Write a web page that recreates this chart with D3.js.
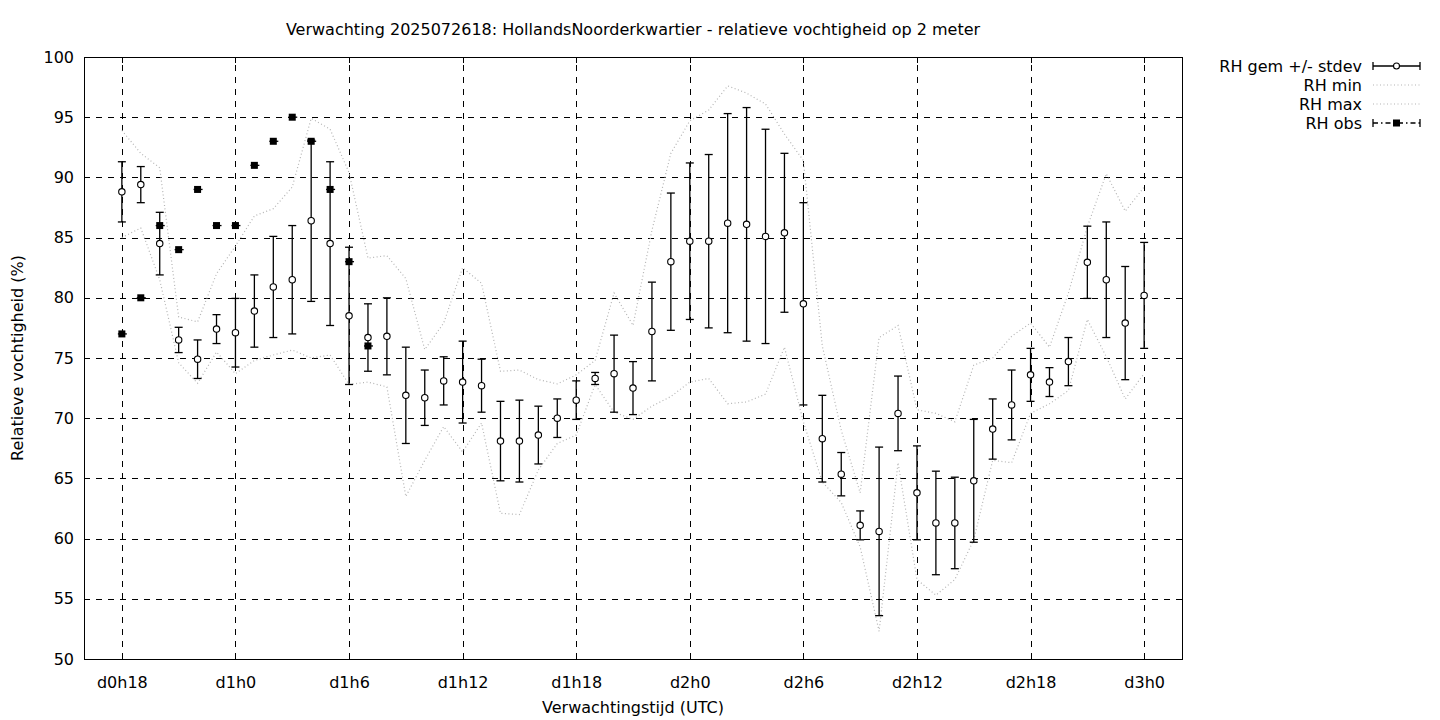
<!DOCTYPE html>
<html>
<head>
<meta charset="utf-8">
<script src="https://cdn.jsdelivr.net/npm/d3@7"></script>
<style>
  html, body { margin: 0; padding: 0; background: #fff; }
  svg { display: block; font-family: "DejaVu Sans", sans-serif; }
</style>
</head>
<body>
<svg id="chart" width="1440" height="720"></svg>
<script>
// ---- data ----
const hours = [18,19,20,21,22,23,24,25,26,27,28,29,30,31,32,33,34,35,36,37,38,39,40,41,42,43,44,45,
  46,47,48,49,50,51,52,53,54,55,56,57,58,59,60,61,62,63,64,65,66,67,68,69,70,71,72];

const rhMean = [88.8,89.4,84.5,76.5,74.9,77.4,77.1,78.9,80.9,81.5,86.4,84.5,78.5,76.7,76.8,71.9,71.7,73.1,
  73.0,72.7,68.1,68.1,68.6,70.0,71.5,73.3,73.7,72.5,77.2,83.0,84.7,84.7,86.2,86.1,85.1,85.4,79.5,68.3,
  65.35,61.1,60.6,70.4,63.8,61.3,61.3,64.8,69.1,71.1,73.6,73.0,74.7,82.95,81.5,77.9,80.2];

const rhStdev = [2.5,1.5,2.6,1.05,1.6,1.2,2.85,3.0,4.2,4.5,6.7,6.8,5.7,2.8,3.2,4.0,2.3,2.0,3.4,2.2,3.3,
  3.4,2.4,1.6,1.6,0.5,3.2,2.2,4.1,5.7,6.5,7.2,9.1,9.7,8.9,6.6,8.4,3.6,1.8,1.2,7.0,3.1,3.9,4.3,3.8,5.1,
  2.5,2.9,2.2,1.2,2.0,3.0,4.8,4.7,4.4];

const rhMin = [85.0,85.8,81.5,74.6,72.9,75.5,73.7,74.8,75.25,75.66,75.0,75.25,72.8,73.0,72.6,63.5,66.5,
  69.3,67.2,69.6,62.1,62.0,65.7,67.9,68.6,72.8,70.5,69.9,71.0,71.8,73.0,73.3,71.2,71.35,72.0,75.9,69.7,
  64.7,63.0,59.3,52.3,66.3,56.6,55.3,56.6,59.9,66.5,66.3,70.4,71.2,72.3,78.2,75.1,71.6,73.7];

const rhMax = [93.9,92.0,90.8,78.4,78.0,82.0,84.3,86.8,87.4,89.2,94.9,94.0,90.4,83.3,83.5,81.6,75.7,
  77.9,82.5,81.2,73.9,74.0,73.2,72.85,73.6,74.8,80.4,77.7,85.6,92.0,94.7,95.6,97.6,97.0,96.1,93.6,91.4,
  76.0,69.0,63.8,76.7,77.7,70.7,70.4,69.7,74.4,75.0,76.8,77.9,75.9,80.4,85.9,90.3,87.2,89.2];

const obsHours = [18,19,20,21,22,23,24,25,26,27,28,29,30,31];
const rhObs = [77,80,86,84,89,86,86,91,93,95,93,89,83,76];

const xTickValues = [18,24,30,36,42,48,54,60,66,72];
const xTickLabels = ["d0h18","d1h0","d1h6","d1h12","d1h18","d2h0","d2h6","d2h12","d2h18","d3h0"];
const yTickValues = [50,55,60,65,70,75,80,85,90,95,100];

const titleText = "Verwachting 2025072618: HollandsNoorderkwartier - relatieve vochtigheid op 2 meter";
const xLabel = "Verwachtingstijd (UTC)";
const yLabel = "Relatieve vochtigheid (%)";
const legendLabels = ["RH gem +/- stdev", "RH min", "RH max", "RH obs"];

// ---- layout ----
const L = 84, R = 1182, T = 57, B = 659;
const svg = d3.select("#chart");
const x = d3.scaleLinear().domain([16, 74]).range([L, R]);
const y = d3.scaleLinear().domain([50, 100]).range([B, T]);
const fs = 16;
const gridDash = "6,6";
const dotColor = "#b4b4b4";

// grid
svg.append("g")
  .attr("transform", `translate(0,${B})`)
  .call(d3.axisBottom(x).tickValues(xTickValues).tickSize(-(B - T)).tickFormat(""))
  .call(g => g.select(".domain").remove())
  .call(g => g.selectAll("line").attr("stroke", "#000").attr("stroke-width", 1).attr("stroke-dasharray", gridDash)
      .attr("shape-rendering", "crispEdges"));
svg.append("g")
  .attr("transform", `translate(${L},0)`)
  .call(d3.axisLeft(y).tickValues(yTickValues.filter(v => v > 50 && v < 100)).tickSize(-(R - L)).tickFormat(""))
  .call(g => g.select(".domain").remove())
  .call(g => g.selectAll("line").attr("stroke", "#000").attr("stroke-width", 1).attr("stroke-dasharray", gridDash)
      .attr("shape-rendering", "crispEdges"));

// axes with inward ticks and labels
const yAxisL = svg.append("g").attr("transform", `translate(${L},0)`)
  .call(d3.axisLeft(y).tickValues(yTickValues).tickSizeInner(-6).tickSizeOuter(0).tickPadding(10));
const yAxisR = svg.append("g").attr("transform", `translate(${R},0)`)
  .call(d3.axisRight(y).tickValues(yTickValues).tickSizeInner(-6).tickSizeOuter(0).tickFormat(""));
const xAxisB = svg.append("g").attr("transform", `translate(0,${B})`)
  .call(d3.axisBottom(x).tickValues(xTickValues).tickSizeInner(-6).tickSizeOuter(0)
     .tickFormat((d, i) => xTickLabels[i]).tickPadding(18));
const xAxisT = svg.append("g").attr("transform", `translate(0,${T})`)
  .call(d3.axisTop(x).tickValues(xTickValues).tickSizeInner(-6).tickSizeOuter(0).tickFormat(""));
[yAxisL, yAxisR, xAxisB, xAxisT].forEach(g => {
  g.select(".domain").remove();
  g.selectAll("line").attr("stroke", "#000").attr("shape-rendering", "crispEdges");
  g.selectAll("text").attr("font-family", "DejaVu Sans").attr("font-size", fs).attr("fill", "#000");
});

// border
svg.append("rect").attr("x", L + 0.5).attr("y", T + 0.5).attr("width", R - L).attr("height", B - T)
  .attr("fill", "none").attr("stroke", "#000").attr("stroke-width", 1);

// min / max dotted lines
const lineGen = arr => d3.line().x((d, i) => x(hours[i])).y((d) => y(d))(arr);
[rhMin, rhMax].forEach(arr => {
  svg.append("path").attr("d", lineGen(arr)).attr("fill", "none")
    .attr("stroke", dotColor).attr("stroke-width", 1.2).attr("stroke-dasharray", "1,2.5");
});

// error bars
const cap = 4;
const eb = svg.append("g").attr("stroke", "#000").attr("stroke-width", 1.3);
hours.forEach((h, i) => {
  const cx = x(h), top = y(rhMean[i] + rhStdev[i]), bot = y(rhMean[i] - rhStdev[i]);
  eb.append("line").attr("x1", cx).attr("x2", cx).attr("y1", top).attr("y2", bot);
  eb.append("line").attr("x1", cx - cap).attr("x2", cx + cap).attr("y1", top).attr("y2", top);
  eb.append("line").attr("x1", cx - cap).attr("x2", cx + cap).attr("y1", bot).attr("y2", bot);
});
svg.append("g").selectAll("circle").data(hours).join("circle")
  .attr("cx", d => x(d)).attr("cy", (d, i) => y(rhMean[i])).attr("r", 3.2)
  .attr("fill", "#fff").attr("stroke", "#000").attr("stroke-width", 1.1);

// observations
const ob = svg.append("g");
obsHours.forEach((h, i) => {
  const cx = x(h), cy = y(rhObs[i]);
  ob.append("line").attr("x1", cx - cap).attr("x2", cx + cap + 1).attr("y1", cy).attr("y2", cy)
    .attr("stroke", "#000").attr("stroke-width", 1.3);
  ob.append("rect").attr("x", cx - 3.5).attr("y", cy - 3.5).attr("width", 7).attr("height", 7).attr("fill", "#000");
});

// title and axis labels
svg.append("text").attr("x", 633).attr("y", 35).attr("text-anchor", "middle")
  .attr("font-size", fs).text(titleText);
svg.append("text").attr("x", 633).attr("y", 713).attr("text-anchor", "middle")
  .attr("font-size", fs).text(xLabel);
svg.append("text").attr("transform", "translate(23,358) rotate(-90)").attr("text-anchor", "middle")
  .attr("font-size", fs).text(yLabel);

// legend
const lgX1 = 1373, lgX2 = 1420, lgTextX = 1362;
const lgY = [66, 85, 104, 123];
const lg = svg.append("g");
legendLabels.forEach((lab, i) => {
  lg.append("text").attr("x", lgTextX).attr("y", lgY[i] + 6).attr("text-anchor", "end")
    .attr("font-size", fs).text(lab);
});
// gem +/- stdev
lg.append("line").attr("x1", lgX1).attr("x2", lgX2).attr("y1", lgY[0]).attr("y2", lgY[0]).attr("stroke", "#000").attr("stroke-width", 1.3);
[lgX1, lgX2].forEach(xx => lg.append("line").attr("x1", xx).attr("x2", xx).attr("y1", lgY[0] - cap).attr("y2", lgY[0] + cap)
  .attr("stroke", "#000").attr("stroke-width", 1.3));
lg.append("circle").attr("cx", (lgX1 + lgX2) / 2).attr("cy", lgY[0]).attr("r", 3)
  .attr("fill", "#fff").attr("stroke", "#000").attr("stroke-width", 1.1);
// min, max
[1, 2].forEach(i => lg.append("line").attr("x1", lgX1).attr("x2", lgX2).attr("y1", lgY[i]).attr("y2", lgY[i])
  .attr("stroke", dotColor).attr("stroke-width", 1.2).attr("stroke-dasharray", "1,2.5"));
// obs
lg.append("line").attr("x1", lgX1).attr("x2", lgX2).attr("y1", lgY[3]).attr("y2", lgY[3])
  .attr("stroke", "#000").attr("stroke-width", 1.3).attr("stroke-dasharray", "5,3,1.5,3");
[lgX1, lgX2].forEach(xx => lg.append("line").attr("x1", xx).attr("x2", xx).attr("y1", lgY[3] - cap).attr("y2", lgY[3] + cap)
  .attr("stroke", "#000").attr("stroke-width", 1.3));
lg.append("rect").attr("x", (lgX1 + lgX2) / 2 - 3.5).attr("y", lgY[3] - 3.5).attr("width", 7).attr("height", 7).attr("fill", "#000");
</script>
</body>
</html>
